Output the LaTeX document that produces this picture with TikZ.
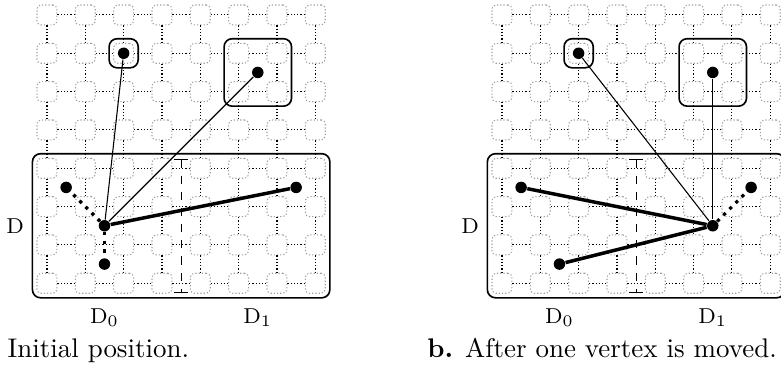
\documentclass[tikz,border=0pt]{standalone}
\usepackage{amsmath,amssymb}
\usetikzlibrary{arrows.meta,positioning}

\tikzset{
  cell/.style={draw=gray!75,dash pattern=on 0.45pt off 0.75pt,rounded corners=1.5pt,minimum size=0.26cm,inner sep=0pt},
  link/.style={dash pattern=on 0.45pt off 0.75pt},
  vtx/.style={circle,fill=black,inner sep=0pt,minimum size=0.15cm},
  region/.style={semithick,rounded corners=3pt},
  heavy/.style={line width=1.3pt},
  moved/.style={very thick,dotted},
  lbl/.style={font=\footnotesize},
  caption/.style={anchor=base west,inner sep=0pt},
}

\begin{document}
\begin{tikzpicture}[x=0.5cm,y=0.5cm]
  \useasboundingbox (-1.226,0.39) rectangle (19.15,-9.21);
  \foreach \p/\dx in {a/0,b/11.87} {
    \begin{scope}[shift={(\dx,0)}]
      % grid of cells
      \foreach \i in {0,...,7} \foreach \j in {0,...,7}
        \node[cell] (\p-\i-\j) at (\i,-\j) {};
      \foreach \i [count=\k] in {0,...,6} \foreach \j in {0,...,7} {
        \draw[link] (\p-\i-\j) -- (\p-\k-\j);
        \draw[link] (\p-\j-\i) -- (\p-\j-\k);
      }
      % regions
      \draw[region] (-0.38,-3.62) rectangle (7.38,-7.38);
      \draw[region] (1.62,-0.62) rectangle (2.38,-1.38);
      \draw[region] (4.62,-0.62) rectangle (6.38,-2.38);
      \coordinate (\p-top) at (3.5,-3.75);
      \coordinate (\p-bot) at (3.5,-7.25);
      \draw[dashed,{Bar[width=5pt]}-{Bar[width=5pt]}] (\p-top) -- (\p-bot);
      \node[lbl] (\p-D) at (-0.83,-5.5) {D};
      \node[lbl,anchor=base] (\p-D0) at (1.5,-8.04) {$\mathrm{D}_0$};
      \node[lbl,anchor=base] (\p-D1) at (5.5,-8.04) {$\mathrm{D}_1$};
      % vertices that stay
      \node[vtx] (\p-P) at (2,-1) {};
      \node[vtx] (\p-Q) at (5.5,-1.5) {};
      \node[vtx] (\p-A) at (0.5,-4.5) {};
      \node[vtx] (\p-C) at (1.5,-6.5) {};
      \node[vtx] (\p-E) at (6.5,-4.5) {};
    \end{scope}
  }
  % initial position
  \node[vtx] (a-B) at (1.5,-5.5) {};
  \draw (a-B) -- (a-P);
  \draw (a-B) -- (a-Q);
  \draw[heavy] (a-B) -- (a-E);
  \draw[moved] (a-B) -- (a-A);
  \draw[moved] (a-B) -- (a-C);
  \node[caption] (capa) at (-1.04,-8.94) {Initial position.};
  % after the move
  \node[vtx] (b-B) at (17.37,-5.5) {};
  \draw (b-B) -- (b-P);
  \draw (b-B) -- (b-Q);
  \draw[heavy] (b-B) -- (b-A);
  \draw[heavy] (b-B) -- (b-C);
  \draw[moved] (b-B) -- (b-E);
  \node[caption] (capb) at (9.91,-8.94) {\textbf{b.} After one vertex is moved.};
\end{tikzpicture}
\end{document}
